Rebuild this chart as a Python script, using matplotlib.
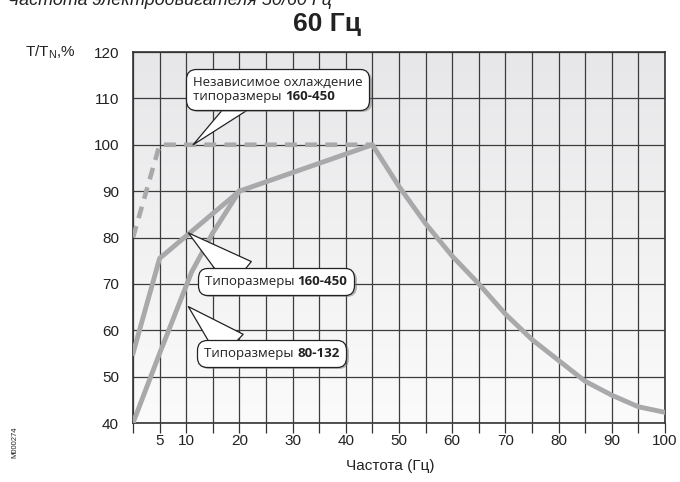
import numpy as np
import matplotlib
matplotlib.use("Agg")
import matplotlib.pyplot as plt
import matplotlib.patheffects as pe
from matplotlib.colors import LinearSegmentedColormap
from matplotlib.offsetbox import TextArea, HPacker, VPacker, AnnotationBbox

plt.rcParams['font.family'] = ['Liberation Sans', 'DejaVu Sans']
plt.rcParams['mathtext.fontset'] = 'custom'
plt.rcParams['mathtext.rm'] = 'Liberation Sans'
plt.rcParams['mathtext.it'] = 'Liberation Sans:italic'

# torque curves, frequency (Hz) -> T/Tn (%)
freq_indep = [0, 5, 45]
torque_indep = [80, 100, 100]

freq_big = [0, 5, 20, 45, 50, 55, 60, 65, 70, 75, 80, 85, 90, 95, 100]
torque_big = [55, 75.5, 90, 100, 91, 83, 76, 70, 63.5, 58, 53.5, 49, 46, 43.5, 42.3]

freq_small = [0, 5, 11, 15, 20]
torque_small = [40, 55, 72.5, 81, 90]

x_ticks = list(range(0, 101, 5))
x_tick_labels = ['5', '10', '20', '30', '40', '50', '60', '70', '80', '90', '100']
y_ticks = [40, 50, 60, 70, 80, 90, 100, 110, 120]

line_col = '#a9a9ab'
dark = '#333333'

fig = plt.figure(figsize=(6.8, 4.82), dpi=100)
ax = fig.add_axes([0.1956, 0.1224, 0.7823, 0.7697])

bg = LinearSegmentedColormap.from_list('bg', ['#e7e7e9', '#fbfbfb'])
ax.imshow(np.linspace(0, 1, 256).reshape(-1, 1), extent=(0, 100, 40, 120),
          cmap=bg, aspect='auto', origin='upper', zorder=0)

ax.plot(freq_indep, torque_indep, color=line_col, lw=3.3, dashes=(2.6, 1.8),
        dash_capstyle='butt', zorder=3)
ax.plot(freq_small, torque_small, color=line_col, lw=3.5, solid_joinstyle='round', zorder=4)
ax.plot(freq_big, torque_big, color=line_col, lw=3.5, solid_joinstyle='round', zorder=4)

ax.set_xlim(0, 100)
ax.set_ylim(40, 120)
ax.set_xticks(x_ticks)
ax.set_xticklabels([str(t) if str(t) in x_tick_labels else '' for t in x_ticks])
ax.set_yticks(y_ticks)
ax.tick_params(axis='x', direction='out', length=7, width=0.9, color=dark,
               labelsize=11, pad=1, labelcolor='#222')
ax.tick_params(axis='y', length=0, labelsize=11, pad=10, labelcolor='#222')
ax.grid(True, color='#3c3c3c', lw=0.9)
for s in ax.spines.values():
    s.set_color(dark)
    s.set_linewidth(1.2)


def callout(lines, xy, xybox, relpos, tail):
    rows = []
    for parts in lines:
        kids = [TextArea(t, textprops=dict(fontfamily='Open Sans', fontsize=9.5,
                                           fontweight='bold' if b else 'normal',
                                           color='#222'))
                for t, b in parts]
        rows.append(HPacker(children=kids, pad=0, sep=0, align='baseline'))
    box = VPacker(children=rows, pad=0, sep=1, align='left')
    ab = AnnotationBbox(box, xy, xybox=xybox, xycoords='data', boxcoords='data',
                        frameon=True,
                        bboxprops=dict(boxstyle='round,pad=0.5,rounding_size=0.7',
                                       fc='white', ec='#222', lw=0.9),
                        arrowprops=dict(arrowstyle='wedge,tail_width=%s,shrink_factor=0.5' % tail,
                                        fc='white', ec='#222', lw=0.9, relpos=relpos,
                                        patchA=None, shrinkA=0, shrinkB=0,
                                        connectionstyle='arc3,rad=0'),
                        zorder=6)
    ab.patch.set_path_effects([pe.SimplePatchShadow(offset=(1.5, -1.5), shadow_rgbFace='#777', alpha=0.5),
                               pe.Normal()])
    ax.add_artist(ab)


callout([[('Независимое охлаждение', False)],
         [('типоразмеры ', False), ('160-450', True)]],
        (11.3, 100), (27.2, 111.9), (0.28, 0.0), 1.0)
callout([[('Типоразмеры ', False), ('160-450', True)]],
        (10.4, 81), (26.9, 70.5), (0.25, 1.0), 1.8)
callout([[('Типоразмеры ', False), ('80-132', True)]],
        (10.4, 65.1), (26.1, 55.0), (0.2, 1.0), 1.8)

fig.text(332 / 680, 1 - 5 / 482, 'Частота электродвигателя 50/60 Гц', style='italic',
         fontsize=13, ha='right', va='baseline', color='#222')
fig.text(327 / 680, 1 - 24 / 482, '60 Гц', fontsize=19, fontweight='bold',
         ha='center', va='center', color='#222')
fig.text(25 / 680, 1 - 52 / 482, r'T/T$_\mathrm{N}$,%', fontsize=11,
         ha='left', va='center', color='#222')
fig.text(390 / 680, 1 - 466 / 482, 'Частота (Гц)', fontsize=11,
         ha='center', va='center', color='#222')
fig.text(15 / 680, 1 - 442 / 482, 'M000274', fontsize=5.5, rotation=90,
         ha='center', va='center', color='#222')

fig.savefig('out.png', dpi=100)
